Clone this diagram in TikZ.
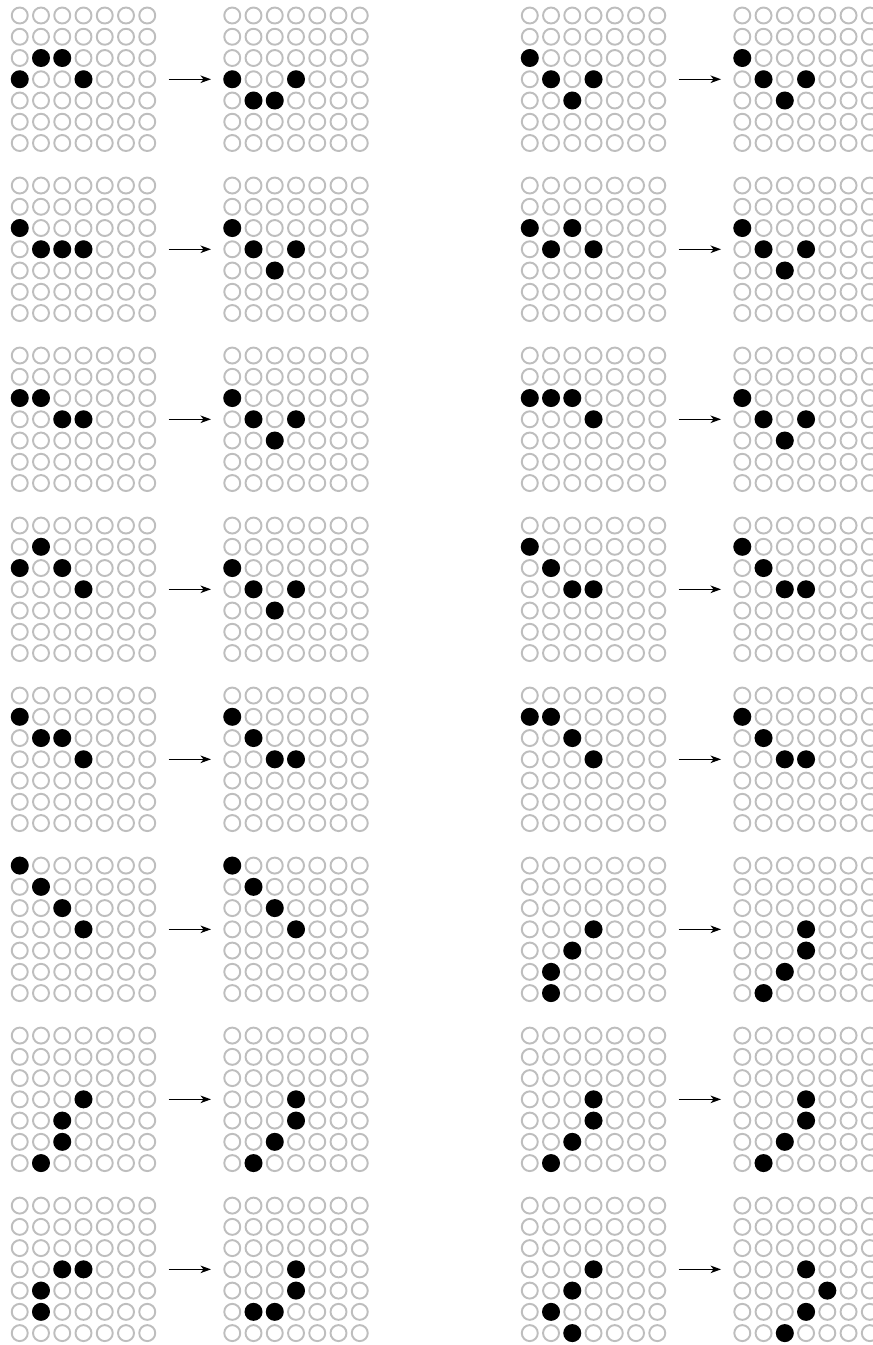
\documentclass[tikz,border=0pt]{standalone}
\usepackage{tikz}
\usetikzlibrary{arrows.meta}
\definecolor{holeGray}{HTML}{BEBEBE}

% one 7x7 board: name, x, y of top left hole, list of pegs col/row
\newcommand{\dotgrid}[4]{%
  \foreach \i in {0,...,6}
    \foreach \j in {0,...,6}
      \node[hole] (#1-\i-\j) at ({#2+\i},{#3-\j}) {};
  \foreach \i/\j in {#4}
    \node[peg] (#1-on-\i-\j) at (#1-\i-\j) {};
  \coordinate (#1-in) at ({#2-1},{#3-3});
  \coordinate (#1-out) at ({#2+7},{#3-3});
}

\begin{document}
\begin{tikzpicture}[x=0.5cm,y=0.5cm,
  hole/.style={circle,draw=holeGray,line width=1.3pt,minimum size=3.76mm,inner sep=0pt},
  peg/.style={hole,draw=black,fill=black},
  flow/.style={-{Stealth[length=7pt,width=5pt,inset=2pt]},line width=1pt}]
  \clip (-0.929,0.73) rectangle (40.15,-62.56);

  % row 1
  \dotgrid{p1a}{0}{0}{1/2,2/2,0/3,3/3}
  \dotgrid{p1b}{10}{0}{0/3,3/3,1/4,2/4}
  \draw[flow] (p1a-out) -- (p1b-in);
  \dotgrid{p2a}{24}{0}{0/2,1/3,3/3,2/4}
  \dotgrid{p2b}{34}{0}{0/2,1/3,3/3,2/4}
  \draw[flow] (p2a-out) -- (p2b-in);

  % row 2
  \dotgrid{p3a}{0}{-8}{0/2,1/3,2/3,3/3}
  \dotgrid{p3b}{10}{-8}{0/2,1/3,3/3,2/4}
  \draw[flow] (p3a-out) -- (p3b-in);
  \dotgrid{p4a}{24}{-8}{0/2,2/2,1/3,3/3}
  \dotgrid{p4b}{34}{-8}{0/2,1/3,3/3,2/4}
  \draw[flow] (p4a-out) -- (p4b-in);

  % row 3
  \dotgrid{p5a}{0}{-16}{0/2,1/2,2/3,3/3}
  \dotgrid{p5b}{10}{-16}{0/2,1/3,3/3,2/4}
  \draw[flow] (p5a-out) -- (p5b-in);
  \dotgrid{p6a}{24}{-16}{0/2,1/2,2/2,3/3}
  \dotgrid{p6b}{34}{-16}{0/2,1/3,3/3,2/4}
  \draw[flow] (p6a-out) -- (p6b-in);

  % row 4
  \dotgrid{p7a}{0}{-24}{1/1,0/2,2/2,3/3}
  \dotgrid{p7b}{10}{-24}{0/2,1/3,3/3,2/4}
  \draw[flow] (p7a-out) -- (p7b-in);
  \dotgrid{p8a}{24}{-24}{0/1,1/2,2/3,3/3}
  \dotgrid{p8b}{34}{-24}{0/1,1/2,2/3,3/3}
  \draw[flow] (p8a-out) -- (p8b-in);

  % row 5
  \dotgrid{p9a}{0}{-32}{0/1,1/2,2/2,3/3}
  \dotgrid{p9b}{10}{-32}{0/1,1/2,2/3,3/3}
  \draw[flow] (p9a-out) -- (p9b-in);
  \dotgrid{p10a}{24}{-32}{0/1,1/1,2/2,3/3}
  \dotgrid{p10b}{34}{-32}{0/1,1/2,2/3,3/3}
  \draw[flow] (p10a-out) -- (p10b-in);

  % row 6
  \dotgrid{p11a}{0}{-40}{0/0,1/1,2/2,3/3}
  \dotgrid{p11b}{10}{-40}{0/0,1/1,2/2,3/3}
  \draw[flow] (p11a-out) -- (p11b-in);
  \dotgrid{p12a}{24}{-40}{3/3,2/4,1/5,1/6}
  \dotgrid{p12b}{34}{-40}{3/3,3/4,2/5,1/6}
  \draw[flow] (p12a-out) -- (p12b-in);

  % row 7
  \dotgrid{p13a}{0}{-48}{3/3,2/4,2/5,1/6}
  \dotgrid{p13b}{10}{-48}{3/3,3/4,2/5,1/6}
  \draw[flow] (p13a-out) -- (p13b-in);
  \dotgrid{p14a}{24}{-48}{3/3,3/4,2/5,1/6}
  \dotgrid{p14b}{34}{-48}{3/3,3/4,2/5,1/6}
  \draw[flow] (p14a-out) -- (p14b-in);

  % row 8
  \dotgrid{p15a}{0}{-56}{2/3,3/3,1/4,1/5}
  \dotgrid{p15b}{10}{-56}{3/3,3/4,1/5,2/5}
  \draw[flow] (p15a-out) -- (p15b-in);
  \dotgrid{p16a}{24}{-56}{3/3,2/4,1/5,2/6}
  \dotgrid{p16b}{34}{-56}{3/3,4/4,3/5,2/6}
  \draw[flow] (p16a-out) -- (p16b-in);
\end{tikzpicture}
\end{document}
